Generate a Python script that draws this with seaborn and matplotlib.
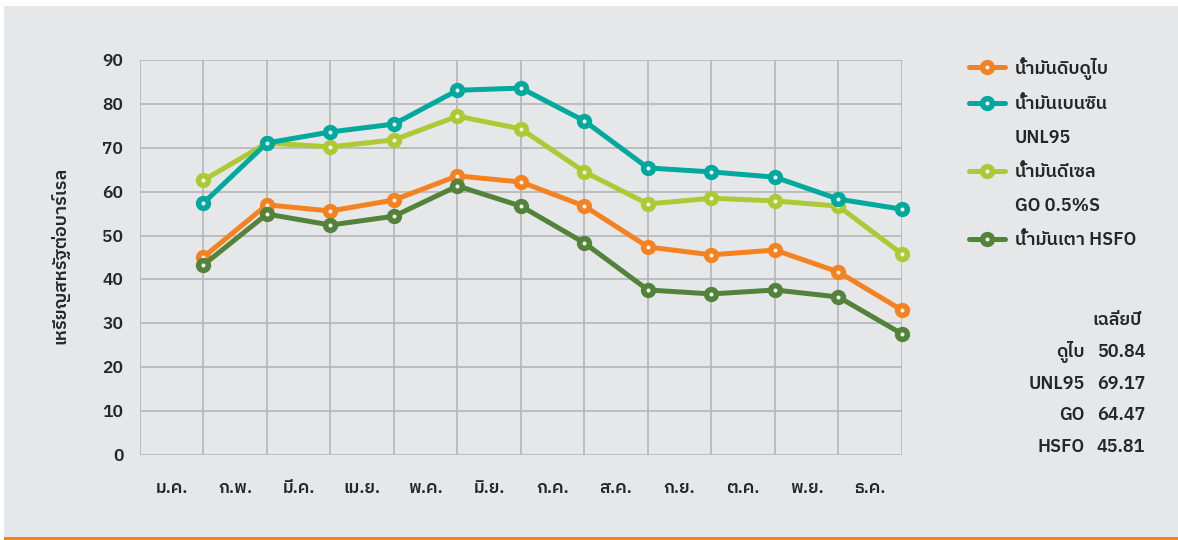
import matplotlib
matplotlib.use("Agg")
import matplotlib.pyplot as plt
from matplotlib.lines import Line2D
from matplotlib.patches import Rectangle
import seaborn as sns
import pandas as pd

months = ['ม.ค.', 'ก.พ.', 'มี.ค.', 'เม.ย.', 'พ.ค.', 'มิ.ย.',
          'ก.ค.', 'ส.ค.', 'ก.ย.', 'ต.ค.', 'พ.ย.', 'ธ.ค.']
dubai = [45.1, 57.0, 55.6, 58.1, 63.6, 62.2, 56.7, 47.4, 45.6, 46.7, 41.7, 33.0]
unl95 = [57.4, 71.1, 73.6, 75.4, 83.1, 83.6, 76.1, 65.4, 64.5, 63.3, 58.3, 56.0]
go = [62.6, 71.1, 70.2, 71.8, 77.2, 74.3, 64.5, 57.2, 58.5, 57.9, 56.7, 45.8]
hsfo = [43.3, 54.9, 52.4, 54.4, 61.3, 56.7, 48.3, 37.6, 36.7, 37.6, 36.0, 27.6]

avg_names = ['ดูไบ', 'UNL95', 'GO', 'HSFO']
avg_values = ['50.84', '69.17', '64.47', '45.81']

legend_labels = ['น้ำมันดิบดูไบ', 'น้ำมันเบนซิน', 'UNL95', 'น้ำมันดีเซล', 'GO 0.5%S', 'น้ำมันเตา HSFO']

BG = '#e6e7e9'
ORANGE = '#f58220'
TEAL = '#00a99d'
LIME = '#afc935'
DKGREEN = '#53833b'
HOLE = '#f4f4f4'

sns.set_theme(style='whitegrid')
plt.rcParams['font.family'] = ['IBM Plex Sans Thai', 'DejaVu Sans']
plt.rcParams['font.weight'] = 'semibold'
plt.rcParams['axes.labelweight'] = 'semibold'

fig = plt.figure(figsize=(11.78, 5.4), dpi=100)
fig.patch.set_facecolor('white')
# gray panel with orange rule at the bottom
fig.patches.append(Rectangle((0.0034, 0.0), 1.0, 0.9889, transform=fig.transFigure,
                             facecolor=BG, edgecolor='none', zorder=-10))
fig.patches.append(Rectangle((0.0034, 0.0), 1.0, 0.006, transform=fig.transFigure,
                             facecolor=ORANGE, edgecolor='none', zorder=-9))

ax = fig.add_axes([0.1188, 0.1574, 0.6469, 0.7315])
ax.set_facecolor(BG)

df = pd.DataFrame({'pos': list(range(1, 13)), 'dubai': dubai, 'unl95': unl95,
                   'go': go, 'hsfo': hsfo})

series = [('dubai', ORANGE), ('go', LIME), ('unl95', TEAL), ('hsfo', DKGREEN)]
for i, (col, color) in enumerate(series):
    sns.lineplot(data=df, x='pos', y=col, ax=ax, color=color, linewidth=3.6,
                 marker='o', markersize=7, markeredgewidth=4,
                 markeredgecolor=color, markerfacecolor=HOLE, zorder=3 + i,
                 clip_on=False)

ax.set_xlim(0, 12)
ax.set_ylim(0, 90)
ax.set_xticks(range(13))
ax.set_xticklabels([])
ax.set_xticks([i + 0.5 for i in range(12)], minor=True)
ax.set_xticklabels(months, minor=True)
ax.set_yticks(range(0, 91, 10))
ax.grid(True, which='major', color='#b5b5b7', linewidth=1.2)
ax.grid(False, which='minor')
ax.tick_params(axis='x', which='both', length=0, pad=19, labelsize=12.5)
ax.tick_params(axis='y', length=0, pad=12, labelsize=12.5)
for s in ax.spines.values():
    s.set_visible(False)
ax.set_xlabel('')
ax.set_ylabel('เหรียญสหรัฐต่อบาร์เรล', fontsize=13)
ax.yaxis.set_label_coords(-0.092, 0.506)

# legend
blank = Line2D([], [], color='none')
def handle(c):
    return Line2D([], [], color=c, linewidth=3.6, marker='o', markersize=7,
                  markeredgewidth=4, markeredgecolor=c, markerfacecolor=HOLE)
handles = [handle(ORANGE), handle(TEAL), blank, handle(LIME), blank, handle(DKGREEN)]
fig.legend(handles, legend_labels, loc='upper left', bbox_to_anchor=(0.823, 0.895),
           frameon=False, fontsize=13, handlelength=1.95, handletextpad=0.55,
           labelspacing=0.88, borderpad=0, borderaxespad=0)

# yearly averages
fig.text(0.969, 0.407, 'เฉลี่ยปี', ha='right', va='center', fontsize=13)
for i, (n, v) in enumerate(zip(avg_names, avg_values)):
    y = 0.348 - i * 0.0585
    fig.text(0.921, y, n, ha='right', va='center', fontsize=13)
    fig.text(0.931, y, v, ha='left', va='center', fontsize=13)

fig.savefig('out.png', dpi=100, facecolor=fig.get_facecolor())
